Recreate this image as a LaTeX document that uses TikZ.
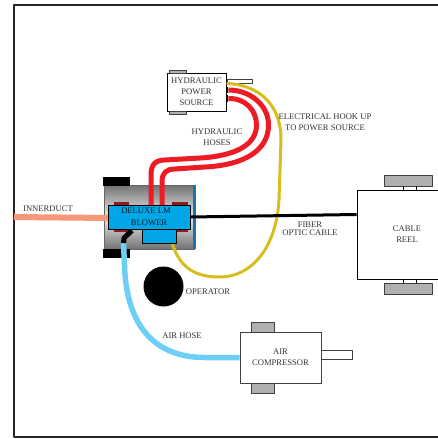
\documentclass[tikz,border=0pt]{standalone}
\usepackage{fontspec}
\setmainfont{Liberation Serif}
\definecolor{hosered}{HTML}{ED1C24}
\definecolor{cablegold}{HTML}{D7BE1E}
\definecolor{airblue}{HTML}{6DCFF6}
\definecolor{ductpink}{HTML}{F7977A}
\definecolor{blowerblue}{HTML}{00A6E6}
\definecolor{stripblue}{HTML}{1C75A8}
\definecolor{padred}{HTML}{8C1C24}
\definecolor{footgray}{HTML}{B0B0B0}
\definecolor{inkgray}{HTML}{333333}
\tikzset{
	lbl/.style={inner sep=0pt,align=center,text=inkgray,font=\fontsize{8.6}{11}\selectfont},
	unitbox/.style={draw=black,line width=.8pt,fill=white,inner sep=0pt,align=center,text=inkgray,font=\fontsize{8.6}{11}\selectfont},
	footbox/.style={draw=black!75,line width=.8pt,fill=footgray,inner sep=0pt},
	capbox/.style={fill=black,inner sep=0pt},
	padbox/.style={fill=padred,inner sep=0pt},
	hose/.style={line width=5pt,hosered},
}
\begin{document}
\begin{tikzpicture}[x=1pt,y=-1pt,line join=round,line cap=butt]
	\useasboundingbox (0,0) rectangle (438,439);
	\draw[line width=1.6pt,black!85] (438,5)--(14,5)--(14,437)--(438,437);
	% blower body
	\node[inner sep=0pt,minimum width=90pt,minimum height=64pt,top color=black!55,bottom color=black!55,middle color=black!8,draw=black!60] (body) at (149,217) {};
	\node[fill=stripblue,inner sep=0pt,minimum width=3pt,minimum height=64pt] (strip) at (194,217) {};
	\foreach \n/\x/\y/\w/\h in {capA/116.5/181.5/27/9,capB/116.5/253.5/27/9}
		\node[capbox,minimum width=\w pt,minimum height=\h pt] (\n) at (\x,\y) {};
	\foreach \n/\x/\y/\w in {padA/121.5/203.5/15,padB/180/203.5/16,padC/122/230.5/16,padD/182/230.5/12}
		\node[padbox,minimum width=\w pt,minimum height=3pt] (\n) at (\x,\y) {};
	% other units
	\node[unitbox,minimum width=59pt,minimum height=38pt] (pump) at (196.5,92) {HYDRAULIC\\POWER\\SOURCE};
	\node[footbox,minimum width=17pt,minimum height=3pt] (pumpfootA) at (177.5,71.5) {};
	\node[footbox,minimum width=17pt,minimum height=3pt] (pumpfootB) at (177.5,113) {};
	\node[footbox,fill=white,minimum width=25pt,minimum height=4pt] (pumpvent) at (239.5,81) {};
	\node[capbox,minimum width=2.5pt,minimum height=6pt] (portA) at (227,90) {};
	\node[capbox,minimum width=2.5pt,minimum height=7pt] (portB) at (227,98.5) {};
	\node[unitbox,minimum width=100pt,minimum height=89pt] (reel) at (407,234.5) {CABLE\\REEL};
	\node[footbox,minimum width=48pt,minimum height=11pt] (reelfootA) at (408,180.5) {};
	\node[footbox,minimum width=48pt,minimum height=11pt] (reelfootB) at (408,288.5) {};
	\draw[line width=.7pt] (403,186)--(403,190) (416,186)--(416,190) (403,279)--(403,283) (416,279)--(416,283);
	\node[unitbox,draw=black!75,minimum width=81pt,minimum height=51pt] (comp) at (280.5,357.5) {AIR\\COMPRESSOR};
	\node[footbox,minimum width=23pt,minimum height=10pt] (compfootA) at (262.5,327) {};
	\node[footbox,minimum width=23pt,minimum height=10pt] (compfootB) at (262.5,388) {};
	\node[footbox,fill=white,minimum width=31pt,minimum height=9pt] (compout) at (336.5,354.5) {};
	\node[circle,fill=black,inner sep=0pt,minimum size=40pt] (operator) at (163.5,286.5) {};
	% connectors
	\path
	(151,205)coordinate(hoseA)
	(162,205)coordinate(hoseB)
	(172,243)coordinate(plug)
	(123.5,243)coordinate(airend)
	(14,217)coordinate(ductend)
	(108,218)coordinate(ductin)
	(190,217)coordinate(fiberend)
	;
	\draw[hose] (portA.east) .. controls (250,90) and (268.5,105) .. (268.5,125) .. controls (268.5,150) and (245,165) .. (205,167) -- (175,169) .. controls (166,169) and (162,173) .. (162,182) -- (hoseB);
	\draw[hose] (portB.east) .. controls (245,98) and (256.5,110) .. (256.5,125) .. controls (256.5,145) and (235,156) .. (200,158) -- (165,160) .. controls (155,160) and (151,165) .. (151,175) -- (hoseA);
	\draw[line width=3pt,cablegold] (pumpvent.south west) .. controls (260,85) and (281,105) .. (281,140) -- (279,200) .. controls (276,250) and (250,277) .. (220,277) .. controls (195,277) and (180,268) .. (plug);
	\draw[line width=5.5pt,airblue] (airend) -- (124.5,265) .. controls (126,320) and (150,357.5) .. (205,357.5) -- (comp.west|-0,357.5);
	\draw[line width=5pt,black] (airend) -- (124,238) -- (132,230.5);
	\draw[line width=6pt,ductpink] (ductend) -- (ductin);
	\draw[line width=3pt,black] (fiberend) -- (reel.west|-0,214.5);
	% blower front
	\node[fill=blowerblue,draw=black,line width=.8pt,inner sep=0pt,minimum width=82pt,minimum height=24pt,align=center,text=black!80!blowerblue,font=\fontsize{8.6}{12}\selectfont] (blower) at (149,217) {\hspace{-6pt}DELUXE LM\\BLOWER};
	\node[fill=blowerblue,draw=black,line width=.8pt,inner sep=0pt,minimum width=34pt,minimum height=14pt] (blowerbase) at (159,236) {};
	% labels
	\foreach \n/\x/\y/\t in {l1/217/137/{HYDRAULIC\\HOSES},l2/325/122.5/{ELECTRICAL HOOK UP\\TO POWER SOURCE},l4/208/291.5/OPERATOR,l5/182/336/AIR HOSE,l6/48/208.5/INNERDUCT}
		\node[lbl] (\n) at (\x,\y) {\t};
	\node[lbl,font=\fontsize{8.6}{8}\selectfont] (l3) at (310,229) {FIBER\\OPTIC CABLE};
\end{tikzpicture}
\end{document}
